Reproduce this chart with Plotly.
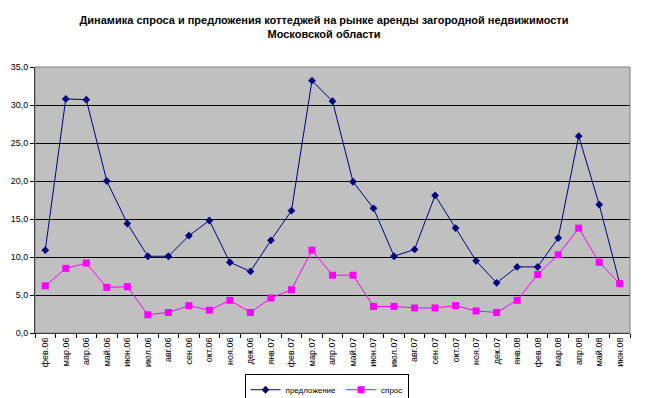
import plotly.graph_objects as go

months = ["фев.06", "мар.06", "апр.06", "май.06", "июн.06", "июл.06", "авг.06", "сен.06",
          "окт.06", "ноя.06", "дек.06", "янв.07", "фев.07", "мар.07", "апр.07", "май.07",
          "июн.07", "июл.07", "авг.07", "сен.07", "окт.07", "ноя.07", "дек.07", "янв.08",
          "фев.08", "мар.08", "апр.08", "май.08", "июн.08"]

supply = [10.9, 30.8, 30.7, 20.0, 14.4, 10.1, 10.1, 12.8, 14.8, 9.3, 8.1, 12.2, 16.1, 33.2,
          30.5, 19.9, 16.4, 10.1, 11.0, 18.1, 13.8, 9.5, 6.6, 8.7, 8.7, 12.5, 25.9, 16.9, 6.5]

demand = [6.2, 8.5, 9.2, 6.0, 6.1, 2.4, 2.7, 3.6, 3.0, 4.3, 2.7, 4.6, 5.7, 10.9,
          7.6, 7.6, 3.5, 3.5, 3.3, 3.3, 3.6, 2.9, 2.7, 4.3, 7.7, 10.3, 13.8, 9.3, 6.5]

y_ticks = [0, 5, 10, 15, 20, 25, 30, 35]

fig = go.Figure()
fig.add_trace(go.Scatter(
    x=months, y=supply, name="предложение", mode="lines+markers",
    line=dict(color="#000080", width=1),
    marker=dict(symbol="diamond", size=6, color="#000080"),
))
fig.add_trace(go.Scatter(
    x=months, y=demand, name="спрос", mode="lines+markers",
    line=dict(color="#FF00FF", width=1),
    marker=dict(symbol="square", size=7, color="#FF00FF"),
))

fig.update_layout(
    width=648, height=398,
    margin=dict(l=35, r=18, t=67, b=65, autoexpand=False),
    paper_bgcolor="white",
    plot_bgcolor="#C0C0C0",
    separators=", ",
    font=dict(family="Liberation Sans, Arial, sans-serif", size=9, color="black"),
    title=dict(
        text="<b>Динамика спроса и предложения коттеджей на рынке аренды загородной недвижимости<br>Московской области</b>",
        x=0.5, xanchor="center", xref="container", yref="container", y=0.94, yanchor="top",
        font=dict(size=11, family="Liberation Sans, Arial, sans-serif"),
    ),
    showlegend=True,
    legend=dict(
        orientation="h", x=0.49, xanchor="center", y=-0.155, yanchor="top",
        bordercolor="black", borderwidth=1, bgcolor="white",
        font=dict(size=8), itemwidth=30, tracegroupgap=0,
    ),
    xaxis=dict(
        type="category", range=[-0.5, len(months) - 0.5],
        tickangle=-90, ticks="outside", tickson="boundaries", ticklen=4,
        tickcolor="black", showline=True, linecolor="black", linewidth=1,
        showgrid=False, mirror=False, tickfont=dict(size=9), automargin=False,
    ),
    yaxis=dict(
        range=[0, 35], tickvals=y_ticks, tickformat=".1f",
        ticks="outside", ticklen=4, tickcolor="black",
        showline=True, linecolor="black", linewidth=1,
        showgrid=True, gridcolor="black", gridwidth=1, zeroline=False,
        tickfont=dict(size=9), automargin=False,
    ),
)
fig.add_shape(type="rect", xref="paper", yref="paper", x0=0, y0=0, x1=1, y1=1,
              line=dict(color="#808080", width=1), layer="above")

fig.write_html("out.html", config={"displayModeBar": False},
               post_script="document.body.style.margin='0';")
